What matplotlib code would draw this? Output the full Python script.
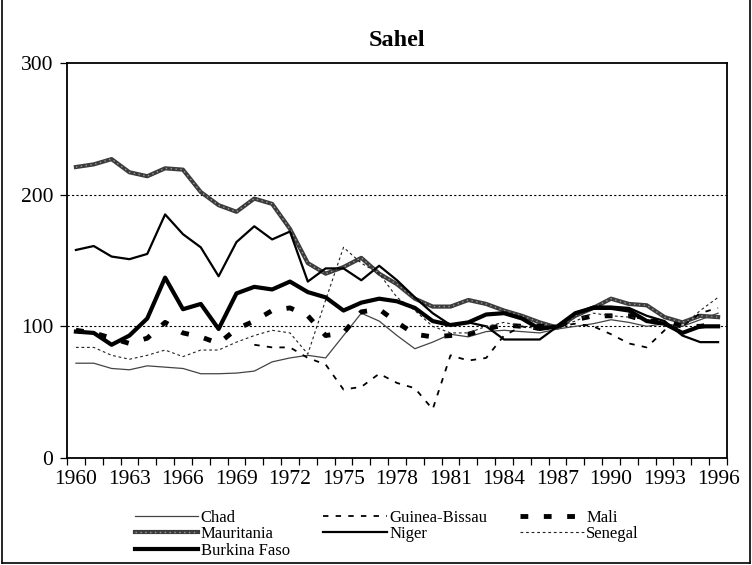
import numpy as np
import matplotlib
matplotlib.use("Agg")
import matplotlib.pyplot as plt
from matplotlib.lines import Line2D

plt.rcParams['font.family'] = ['Liberation Serif', 'DejaVu Serif']

years = list(range(1960, 1997))
nan = np.nan

chad = [72, 72, 68, 67, 70, 69, 68, 64, 64, 64.5, 66, 73, 76, 78, 76, 93, 110, 104, 93, 83,
        88, 94, 92, 96, 97, 96, 95, 98, 100, 102, 105, 103, 100, 102, 100, 105, 110]
guinea_bissau = [nan] * 10 + [86, 84, 84, 76, 71, 52, 54, 64, 57, 53,
                              37, 78, 74, 76, 93, 100, 97, 100, 102, 100, 94, 87, 84, 97, 100, 110, 114]
mali = [97, 95, 91, 87, 91, 103, 95, 92, 87, 98, 104, 112, 114, 108, 93, 95, 111, 113, 103, 94,
        92, 93, 94, 98, 101, 100, 100, 100, 105, 108, 108, 108, 104, 104, 100, 100, 102]
mauritania = [221, 223, 227, 217, 214, 220, 219, 202, 192, 187, 197, 193, 174, 148, 140, 145, 152, 140, 132, 121,
              115, 115, 120, 117, 112, 108, 103, 99, 108, 114, 121, 117, 116, 107, 103, 108, 107]
niger = [158, 161, 153, 151, 155, 185, 170, 160, 138, 164, 176, 166, 172, 134, 144, 144, 135, 146, 135, 122,
         110, 101, 103, 100, 90, 90, 90, 100, 110, 115, 115, 114, 108, 104, 93, 88, 88]
senegal = [84, 84, 78, 75, 78, 82, 77, 82, 82, 88, 93, 97, 95, 79, 120, 160, 148, 140, 122, 112,
           100, 95, 95, 100, 103, 100, 98, 100, 104, 110, 108, 107, 105, 100, 100, 112, 122]
burkina = [96, 95, 86, 93, 106, 137, 113, 117, 98, 125, 130, 128, 134, 126, 122, 112, 118, 121, 119, 114,
           104, 101, 103, 109, 110, 106, 98, 100, 110, 114, 114, 112, 104, 102, 95, 100, 100]

label_years = list(range(1960, 1997, 3))
yticks = [0, 100, 200, 300]

fig = plt.figure(figsize=(7.52, 5.65), dpi=100)
ax = fig.add_axes([67 / 752, 1 - 458 / 565, 660 / 752, 395 / 565])

for yv in [100, 200]:
    ax.axhline(yv, color='black', lw=0.8, linestyle=(0, (2, 2)), zorder=1)

h_chad, = ax.plot(years, chad, color='#444444', lw=0.9, zorder=3)
h_gb, = ax.plot(years, guinea_bissau, color='black', lw=1.3, linestyle=(0, (3, 4)), zorder=3)
h_mali, = ax.plot(years, mali, color='black', lw=3.5, linestyle=(0, (1.6, 3.2)), zorder=3)
h_maur1, = ax.plot(years, mauritania, color='#3c3c3c', lw=3.0, zorder=2)
h_maur2, = ax.plot(years, mauritania, color='#9a9a9a', lw=1.0, linestyle=(0, (1, 2.5)), zorder=2)
h_niger, = ax.plot(years, niger, color='black', lw=1.6, zorder=3)
h_sen, = ax.plot(years, senegal, color='#222222', lw=0.8, linestyle=(0, (2.5, 2.5)), zorder=3)
h_bf, = ax.plot(years, burkina, color='black', lw=3.0, zorder=4)

ax.set_xlim(1959.5, 1996.5)
ax.set_ylim(0, 300)
ax.set_xticks(label_years)
ax.set_xticklabels([str(y) for y in label_years])
ax.set_xticks(np.arange(1959.5, 1997, 1), minor=True)
ax.tick_params(axis='x', which='major', length=0, pad=9, labelsize=15.5)
ax.tick_params(axis='x', which='minor', length=5, direction='out', width=0.9)
ax.set_yticks(yticks)
ax.set_yticklabels([str(v) for v in yticks])
ax.tick_params(axis='y', which='major', length=5, direction='out', width=0.9, labelsize=15.5, pad=5)
for s in ax.spines.values():
    s.set_linewidth(1.3)
    s.set_color('black')

ax.set_title('Sahel', fontsize=17.5, fontweight='bold', pad=12)

handles = [h_chad, (h_maur1, h_maur2), h_bf, h_gb, h_niger, h_mali, h_sen]
labels = ['Chad', 'Mauritania', 'Burkina Faso', 'Guinea-Bissau', 'Niger', 'Mali', 'Senegal']
fig.legend(handles, labels, ncol=3, loc='upper left', bbox_to_anchor=(135 / 752, 1 - 510 / 565),
           frameon=False, fontsize=12, handlelength=3.8, handletextpad=0.15,
           columnspacing=2.0, labelspacing=0.02, borderpad=0, borderaxespad=0)

# outer figure border
for xs, ys in [([0.002, 0.002], [0.003, 1.0]), ([0.997, 0.997], [0.003, 1.0]), ([0.002, 0.997], [0.004, 0.004])]:
    fig.add_artist(Line2D(xs, ys, transform=fig.transFigure, color='black', lw=1.2))

fig.savefig('out.png', dpi=100)
